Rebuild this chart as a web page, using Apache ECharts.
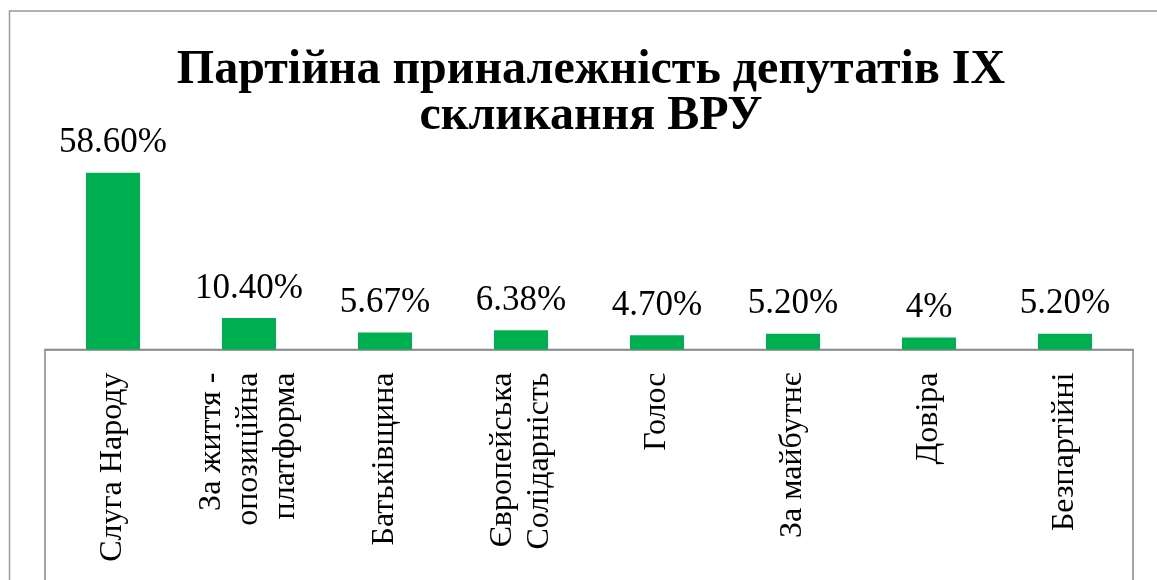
<!DOCTYPE html>
<html>
<head>
<meta charset="utf-8">
<script src="https://cdn.jsdelivr.net/npm/echarts@6/dist/echarts.min.js"></script>
<style>
  html, body { margin: 0; padding: 0; background: #fff; }
  #chart { width: 1157px; height: 580px; }
</style>
</head>
<body>
<div id="chart"></div>
<script>
// дані з діаграми
var categories = [
    'Слуга Народу',
    'За життя -\nопозиційна\nплатформа',
    'Батьківщина',
    'Європейська\nСолідарність',
    'Голос',
    'За майбутнє',
    'Довіра',
    'Безпартійні'
];
var shares = [58.6, 10.4, 5.67, 6.38, 4.7, 5.2, 4, 5.2];
var shareLabels = ['58.60%', '10.40%', '5.67%', '6.38%', '4.70%', '5.20%', '4%', '5.20%'];

var serif = '"Liberation Serif", "DejaVu Serif", serif';
var myChart = echarts.init(document.getElementById('chart'));

var option = {
    backgroundColor: '#fff',
    animation: false,
    title: {
        text: 'Партійна приналежність депутатів IX\nскликання ВРУ',
        left: 586,
        top: 43,
        textAlign: 'center',
        textStyle: {
            fontFamily: serif,
            fontWeight: 'bold',
            fontSize: 48,
            lineHeight: 46,
            color: '#000'
        }
    },
    grid: {
        left: 45,
        right: 24,
        top: 138.3,
        bottom: 230.5,
        containLabel: false
    },
    xAxis: {
        type: 'category',
        data: categories,
        axisLine: {lineStyle: {color: '#898989', width: 1.5}},
        axisTick: {show: false},
        axisLabel: {
            rotate: 90,
            interval: 0,
            margin: 23,
            fontFamily: serif,
            fontSize: 32,
            lineHeight: 37,
            color: '#000'
        }
    },
    yAxis: {
        type: 'value',
        min: 0,
        max: 70,
        show: false
    },
    series: [{
        type: 'bar',
        data: shares,
        barWidth: 54,
        itemStyle: {color: '#00B050'},
        label: {
            show: true,
            position: 'top',
            distance: 12,
            fontFamily: serif,
            fontSize: 35,
            color: '#000',
            formatter: function (p) {
                return shareLabels[p.dataIndex];
            }
        }
    }],
    graphic: [{
        // зовнішня рамка
        type: 'rect',
        shape: {x: 9.5, y: 11, width: 1200, height: 640},
        style: {fill: null, stroke: '#9a9a9a', lineWidth: 1.5},
        silent: true
    }, {
        // рамка області підписів
        type: 'rect',
        shape: {x: 45, y: 349.5, width: 1088, height: 300},
        style: {fill: null, stroke: '#898989', lineWidth: 1.5},
        silent: true
    }]
};
myChart.setOption(option);
</script>
</body>
</html>
